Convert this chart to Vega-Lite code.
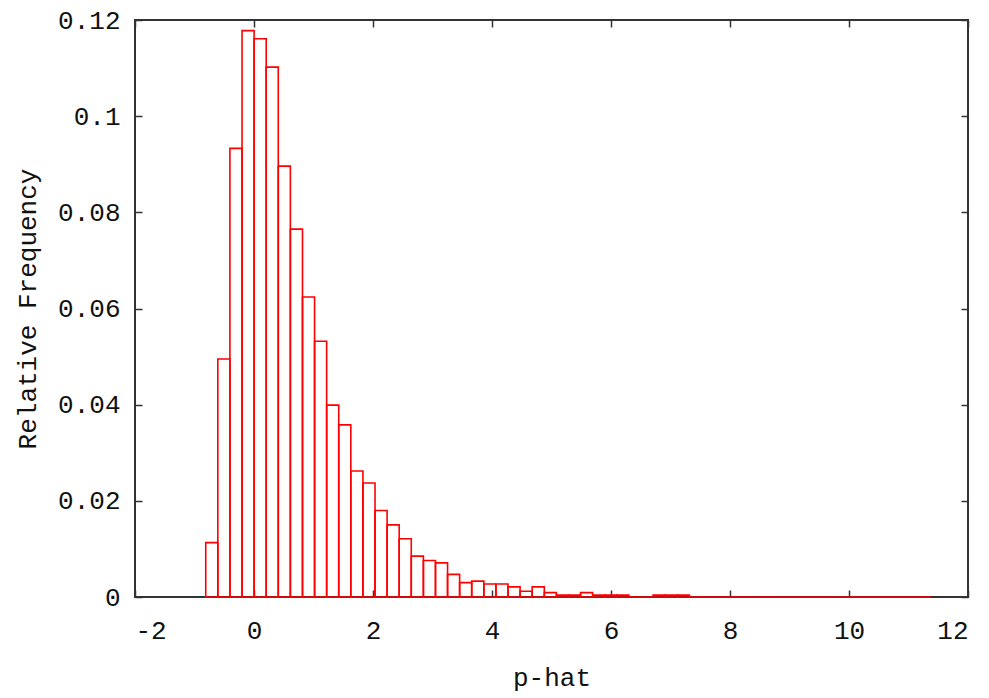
{
  "$schema": "https://vega.github.io/schema/vega-lite/v6.json",
  "width": 833,
  "height": 577,
  "autosize": "none",
  "padding": {"left": 135, "top": 20, "right": 21, "bottom": 101},
  "background": "white",
  "config": {
    "view": {"stroke": "#333333", "strokeWidth": 2},
    "axis": {
      "labelFont": "Liberation Mono",
      "labelFontSize": 26,
      "labelColor": "#111111",
      "titleFont": "Liberation Mono",
      "titleFontSize": 26,
      "titleFontWeight": "normal",
      "titleColor": "#111111",
      "tickColor": "#333333",
      "tickWidth": 1.5,
      "tickSize": -7,
      "domain": false,
      "grid": false,
      "zindex": 1
    }
  },
  "data": {
    "values": [
      {"x0": -0.811, "x1": -0.608, "f": 0.0113},
      {"x0": -0.608, "x1": -0.405, "f": 0.0495},
      {"x0": -0.405, "x1": -0.201, "f": 0.0933},
      {"x0": -0.201, "x1": 0.002, "f": 0.1178},
      {"x0": 0.002, "x1": 0.205, "f": 0.1161},
      {"x0": 0.205, "x1": 0.408, "f": 0.1102},
      {"x0": 0.408, "x1": 0.611, "f": 0.0896},
      {"x0": 0.611, "x1": 0.815, "f": 0.0765},
      {"x0": 0.815, "x1": 1.018, "f": 0.0624},
      {"x0": 1.018, "x1": 1.221, "f": 0.0532},
      {"x0": 1.221, "x1": 1.424, "f": 0.0399},
      {"x0": 1.424, "x1": 1.627, "f": 0.0358},
      {"x0": 1.627, "x1": 1.831, "f": 0.0262},
      {"x0": 1.831, "x1": 2.034, "f": 0.0237},
      {"x0": 2.034, "x1": 2.237, "f": 0.0180},
      {"x0": 2.237, "x1": 2.440, "f": 0.0150},
      {"x0": 2.440, "x1": 2.643, "f": 0.0121},
      {"x0": 2.643, "x1": 2.847, "f": 0.0085},
      {"x0": 2.847, "x1": 3.050, "f": 0.0076},
      {"x0": 3.050, "x1": 3.253, "f": 0.0071},
      {"x0": 3.253, "x1": 3.456, "f": 0.0047},
      {"x0": 3.456, "x1": 3.659, "f": 0.0030},
      {"x0": 3.659, "x1": 3.863, "f": 0.0033},
      {"x0": 3.863, "x1": 4.066, "f": 0.0027},
      {"x0": 4.066, "x1": 4.269, "f": 0.0027},
      {"x0": 4.269, "x1": 4.472, "f": 0.0021},
      {"x0": 4.472, "x1": 4.675, "f": 0.0012},
      {"x0": 4.675, "x1": 4.879, "f": 0.0021},
      {"x0": 4.879, "x1": 5.082, "f": 0.0009},
      {"x0": 5.082, "x1": 5.285, "f": 0.0004},
      {"x0": 5.285, "x1": 5.488, "f": 0.0004},
      {"x0": 5.488, "x1": 5.691, "f": 0.0009},
      {"x0": 5.691, "x1": 5.895, "f": 0.0004},
      {"x0": 5.895, "x1": 6.098, "f": 0.0004},
      {"x0": 6.098, "x1": 6.301, "f": 0.0004},
      {"x0": 6.301, "x1": 6.504, "f": 0},
      {"x0": 6.504, "x1": 6.707, "f": 0},
      {"x0": 6.707, "x1": 6.911, "f": 0.0004},
      {"x0": 6.911, "x1": 7.114, "f": 0.0004},
      {"x0": 7.114, "x1": 7.317, "f": 0.0004},
      {"x0": 7.317, "x1": 7.520, "f": 0},
      {"x0": 7.520, "x1": 7.723, "f": 0},
      {"x0": 7.723, "x1": 7.927, "f": 0},
      {"x0": 7.927, "x1": 8.130, "f": 0},
      {"x0": 8.130, "x1": 8.333, "f": 0},
      {"x0": 8.333, "x1": 8.536, "f": 0},
      {"x0": 8.536, "x1": 8.739, "f": 0},
      {"x0": 8.739, "x1": 8.943, "f": 0},
      {"x0": 8.943, "x1": 9.146, "f": 0},
      {"x0": 9.146, "x1": 9.349, "f": 0},
      {"x0": 9.349, "x1": 9.552, "f": 0},
      {"x0": 9.552, "x1": 9.755, "f": 0},
      {"x0": 9.755, "x1": 9.959, "f": 0},
      {"x0": 9.959, "x1": 10.162, "f": 0},
      {"x0": 10.162, "x1": 10.365, "f": 0},
      {"x0": 10.365, "x1": 10.568, "f": 0},
      {"x0": 10.568, "x1": 10.771, "f": 0},
      {"x0": 10.771, "x1": 10.975, "f": 0},
      {"x0": 10.975, "x1": 11.178, "f": 0},
      {"x0": 11.178, "x1": 11.381, "f": 0}
    ]
  },
  "layer": [
    {
      "mark": {"type": "rect", "fill": "transparent", "stroke": "#ff0000", "strokeWidth": 1.6},
      "encoding": {
        "x": {
          "field": "x0", "type": "quantitative",
          "scale": {"domain": [-2, 12], "nice": false, "zero": false},
          "axis": {
            "orient": "bottom",
            "values": [-2, 0, 2, 4, 6, 8, 10, 12],
            "labelExpr": "'' + datum.value",
            "labelPadding": 27,
            "labelBaseline": "top",
            "title": "p-hat",
            "titleX": 416.5,
            "titleY": 80,
            "titleBaseline": "middle",
            "titleAlign": "center"
          }
        },
        "x2": {"field": "x1"},
        "y": {
          "field": "f", "type": "quantitative",
          "scale": {"domain": [0, 0.12], "nice": false},
          "axis": {
            "orient": "left",
            "values": [0, 0.02, 0.04, 0.06, 0.08, 0.1, 0.12],
            "labelExpr": "'' + datum.value",
            "labelPadding": 22,
            "labelBaseline": "middle",
            "title": "Relative Frequency",
            "titleX": -108,
            "titleY": 288.5,
            "titleAngle": -90,
            "titleBaseline": "middle",
            "titleAlign": "center"
          }
        },
        "y2": {"datum": 0}
      }
    },
    {
      "mark": {"type": "rect", "opacity": 0},
      "encoding": {
        "x": {
          "field": "x0", "type": "quantitative",
          "axis": {"orient": "top", "values": [-2, 0, 2, 4, 6, 8, 10, 12], "labels": false, "title": null}
        },
        "x2": {"field": "x1"},
        "y": {
          "field": "f", "type": "quantitative",
          "axis": {"orient": "right", "values": [0, 0.02, 0.04, 0.06, 0.08, 0.1, 0.12], "labels": false, "title": null}
        },
        "y2": {"datum": 0}
      }
    }
  ],
  "resolve": {"axis": {"x": "independent", "y": "independent"}}
}
